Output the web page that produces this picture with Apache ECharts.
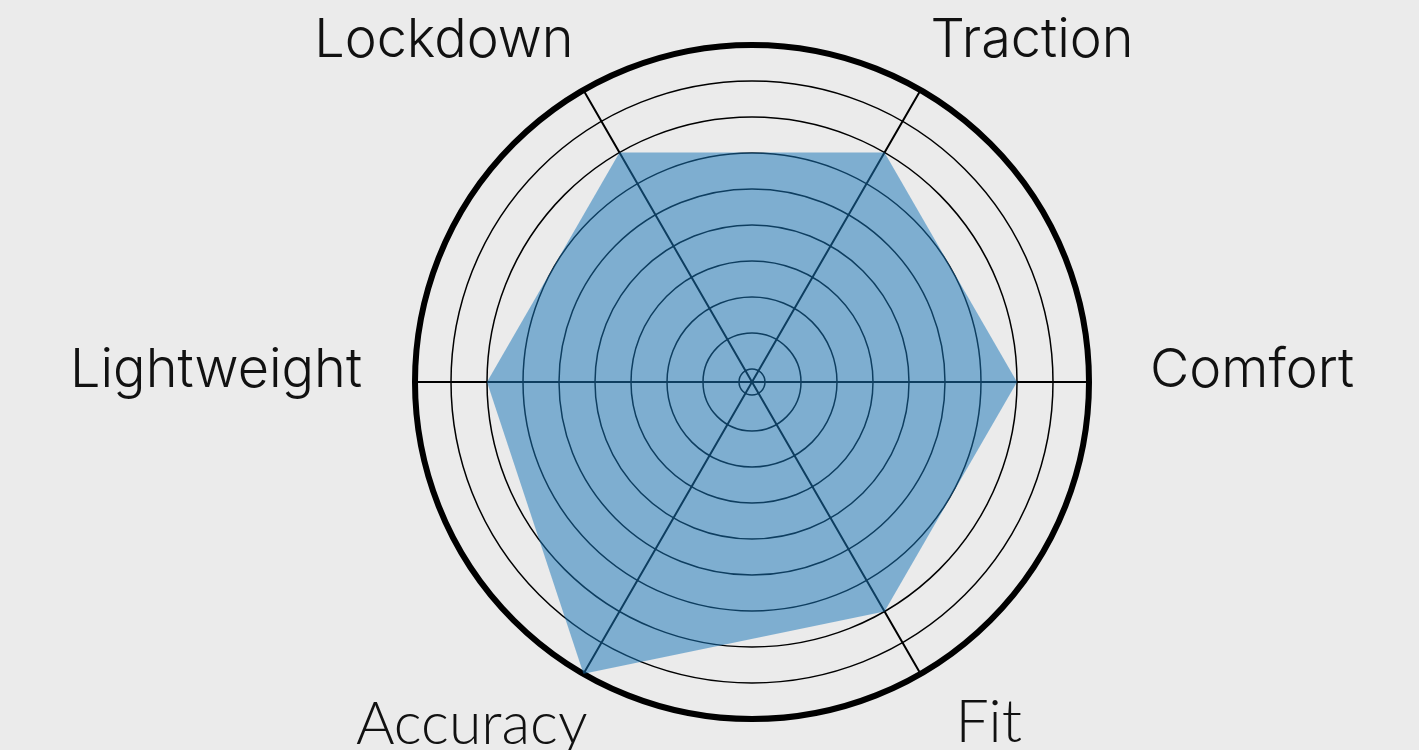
<!DOCTYPE html>
<html>
<head>
<meta charset="utf-8">
<script src="https://cdn.jsdelivr.net/npm/echarts@6/dist/echarts.min.js"></script>
<style>
  html, body { margin: 0; padding: 0; background: #ebebeb; }
  #chart { width: 1419px; height: 750px; }
</style>
</head>
<body>
<div id="chart"></div>
<script>
// indicators go counter-clockwise starting from the right
var indicators = ["Comfort", "Traction", "Lockdown", "Lightweight", "Accuracy", "Fit"];
var scores = [7, 7, 7, 7, 9, 7];
var maxScore = 9;

// label styles: padding nudges each name to where the original has it
var labelStyle = {
  Comfort: { padding: [0, 0, 22, 71] },
  Traction: { padding: [0, 0, 116, 15] },
  Lockdown: { padding: [0, 15, 116, 0] },
  Lightweight: { padding: [0, 63, 22, 0] },
  Accuracy: { padding: [120, 1, 0, 0], fontFamily: "Lato", fontSize: 59 },
  Fit: { padding: [116, 0, 0, 40], fontFamily: "Lato", fontSize: 59 }
};

var rich = {};
indicators.forEach(function (name, i) {
  rich["n" + i] = labelStyle[name];
});

var chartDom = document.getElementById("chart");
var myChart = echarts.init(chartDom, null, { renderer: "canvas" });

var option = {
  backgroundColor: "#ebebeb",
  polar: {
    center: [752, 382],
    radius: [0, 337]
  },
  angleAxis: {
    type: "value",
    min: 0,
    max: 360,
    interval: 60,
    startAngle: 0,
    axisLine: { lineStyle: { color: "#000", width: 6 } },
    axisTick: { show: false },
    axisLabel: { show: false },
    splitLine: { lineStyle: { color: "#000", width: 2 } }
  },
  radiusAxis: {
    type: "value",
    min: 0,
    max: maxScore,
    axisLine: { show: false },
    axisTick: { show: false },
    axisLabel: { show: false },
    splitLine: { show: false }
  },
  radar: {
    center: [752, 382],
    radius: [13, 337],
    startAngle: 0,
    shape: "circle",
    splitNumber: maxScore,
    indicator: indicators.map(function (name) {
      return { name: name, min: 0, max: maxScore };
    }),
    nameGap: -10,
    axisName: {
      color: "#111",
      fontFamily: "Inter",
      fontWeight: 300,
      fontSize: 54,
      rich: rich,
      formatter: function (value) {
        var i = indicators.indexOf(value);
        return "{n" + i + "|" + value + "}";
      }
    },
    axisLine: { show: false },
    axisTick: { show: false },
    splitArea: { show: false },
    splitLine: { lineStyle: { color: "#000", width: 1.5 } }
  },
  series: [
    {
      type: "radar",
      symbol: "none",
      lineStyle: { width: 0 },
      areaStyle: { color: "#1a76b8", opacity: 0.52 },
      data: [{ value: scores, name: "Scores" }]
    }
  ]
};

option && myChart.setOption(option);
</script>
</body>
</html>
